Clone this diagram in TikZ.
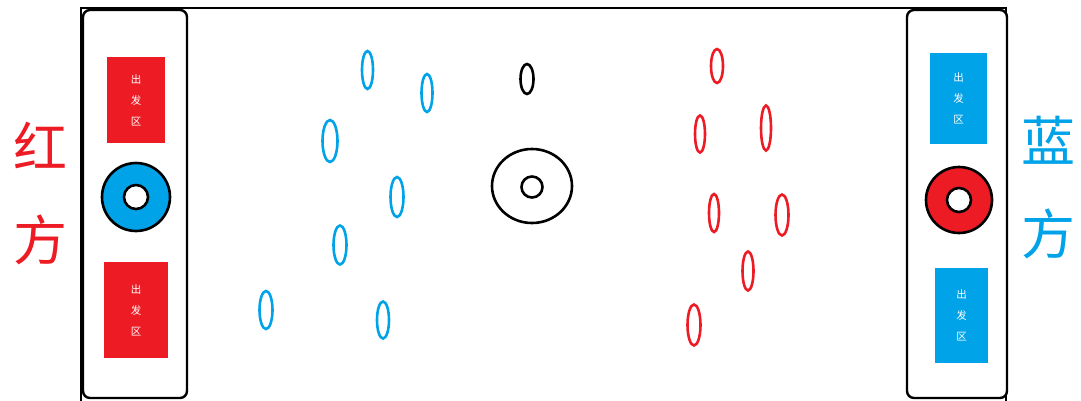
\documentclass[tikz,border=0pt]{standalone}
\usepackage{fontspec}
\newfontfamily\cjk{Noto Sans CJK SC}
\usetikzlibrary{positioning}
\definecolor{fieldred}{HTML}{ED1C24}
\definecolor{fieldblue}{HTML}{00A2E8}

\begin{document}
\begin{tikzpicture}[
  x=1pt, y=-1pt,
  panel/.style={draw, line width=2.4pt, rounded corners=7pt},
  zone/.style={inner sep=0pt, minimum width=#1, align=center, text=white,
               font=\cjk\fontsize{10.5}{21}\selectfont},
  side/.style={align=center, font=\cjk\fontsize{54}{93}\selectfont},
  pin/.style={line width=2.6pt},
  ring/.style={draw, line width=2.6pt},
]
  \useasboundingbox (0,0) rectangle (1081,400);
  % field
  \draw[line width=2.8pt] (81,8) rectangle (1006,402);
  \draw[panel, fill=white] (83,10) rectangle (187,398);
  \draw[panel, fill=white] (907,10) rectangle (1007,398);

  % red side
  \fill[fieldred] (107,57) rectangle (165,143);
  \node[zone=58pt] (redtop) at (136,100) {出\\发\\区};
  \fill[fieldred] (104,262) rectangle (168,358);
  \node[zone=64pt] (redbot) at (136,310) {出\\发\\区};
  \draw[ring, fill=fieldblue] (136,197) circle (34);
  \draw[ring, fill=white] (136,197) circle (12);
  \node[side, text=fieldred] (redlabel) at (40,194) {红\\方};

  % blue side
  \fill[fieldblue] (930,53) rectangle (987,144);
  \node[zone=57pt] (bluetop) at (958.5,98.5) {出\\发\\区};
  \fill[fieldblue] (935,268) rectangle (988,363);
  \node[zone=53pt] (bluebot) at (961.5,315.5) {出\\发\\区};
  \draw[ring, fill=fieldred] (959,200) circle (33);
  \draw[ring, fill=white] (959,200) circle (12);
  \node[side, text=fieldblue] (bluelabel) at (1048,188) {蓝\\方};

  % centre
  \draw[pin] (527,79) ellipse [x radius=6.5, y radius=15];
  \draw[pin] (532,186) ellipse [x radius=40, y radius=37];
  \draw[pin] (532,187) circle (10.5);

  % blue pins
  \foreach \px/\py/\ex/\ey in {367.5/70/5.5/19, 427/93/5.5/19, 330/141/7.5/21,
      397/197/6.5/20, 340/245/6.5/19.5, 266/310/6.5/19, 383/320/6/18.5}
    \draw[pin, fieldblue] (\px,\py) ellipse [x radius=\ex, y radius=\ey];

  % red pins
  \foreach \px/\py/\ex/\ey in {717/66/6/17, 700/134/5/18.5, 766/128/5/22.5,
      714/213/5/19, 782/215/6.5/20.5, 748/271/5.5/19.5, 694/325/6.5/20.5}
    \draw[pin, fieldred] (\px,\py) ellipse [x radius=\ex, y radius=\ey];
\end{tikzpicture}
\end{document}
